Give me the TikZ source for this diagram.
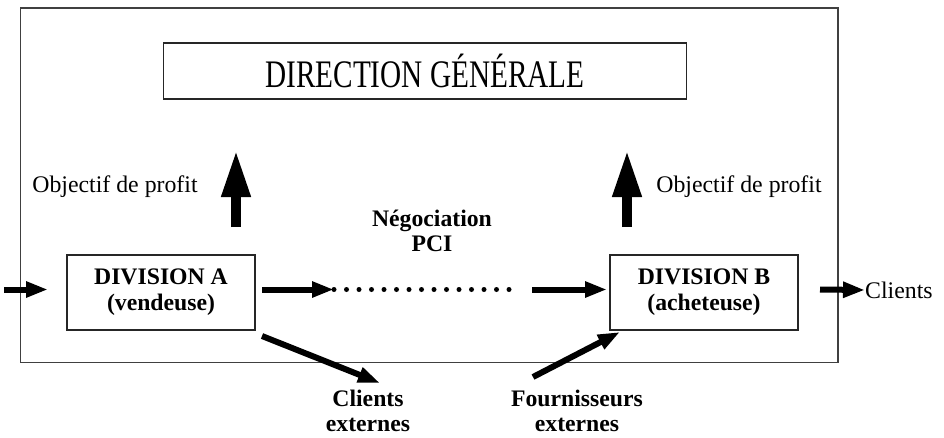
\documentclass[tikz,border=0pt]{standalone}
\usepackage{fontspec}
\setmainfont{Liberation Serif}
\newfontfamily\condfont[FakeStretch=0.75]{Liberation Serif}
\usetikzlibrary{arrows.meta,calc}
\tikzset{
  frame/.style={draw=black!75, line width=1.5pt},
  boxnode/.style={draw=black!85, line width=1.3pt, inner sep=0pt, align=center},
  boldtxt/.style={font=\fontsize{23.7}{25.5}\selectfont\bfseries, align=center, inner sep=0pt},
  normtxt/.style={font=\fontsize{23.8}{26}\selectfont, inner sep=0pt},
  flowarrow/.style={line width=6pt, -{Triangle[length=22pt,width=15pt]}},
  bigarrow/.style={line width=10pt, -{Triangle[length=47pt,width=27pt]}},
  dotline/.style={line width=5pt, line cap=round, dash pattern=on 0pt off 12.5pt}
}
\begin{document}
\begin{tikzpicture}[x=1pt,y=-1pt]
\useasboundingbox (0,0) rectangle (944,437);
\draw[frame] (20.5,8) rectangle (838,362.5);

\node[boxnode, minimum width=523pt, minimum height=56pt,
      font=\fontsize{39}{42}\condfont] (dg) at (425,71) {DIRECTION GÉNÉRALE};
\node[boxnode, minimum width=188pt, minimum height=75pt,
      font=\fontsize{23.7}{26}\selectfont\bfseries] (divA) at (161,292.5) {DIVISION A\\(vendeuse)};
\node[boxnode, minimum width=188pt, minimum height=75pt,
      font=\fontsize{23.7}{26}\selectfont\bfseries] (divB) at (704,292.5) {DIVISION B\\(acheteuse)};

\node[normtxt, anchor=base] (objL) at (115,192) {Objectif de profit};
\node[normtxt, anchor=base] (objR) at (739,192) {Objectif de profit};
\node[boldtxt] (neg) at (432,231) {Négociation\\PCI};
\node[boldtxt] (cext) at (368,411) {Clients\\externes};
\node[boldtxt] (fext) at (577,411) {Fournisseurs\\externes};
\node[normtxt, anchor=west] (cli) at (865,290) {Clients};

% up arrows
\coordinate (uA0) at (236,227);
\coordinate (uA1) at (236,150);
\coordinate (uB0) at (627,227);
\coordinate (uB1) at (627,150);
\draw[bigarrow] (uA0) -- (uA1);
\draw[bigarrow] (uB0) -- (uB1);

% horizontal flow
\coordinate (in0) at (4,289.5);
\coordinate (in1) at (48,289.5);
\draw[flowarrow] (in0) -- (in1);
\coordinate (a0) at (262,289.5);
\coordinate (d0) at (334,289.5);
\coordinate (d1) at (509,289.5);
\draw[flowarrow] (a0) -- (d0);
\draw[dotline] (d0) -- (d1);
\coordinate (b0) at (532,289.5);
\coordinate (b1) at (607,289.5);
\draw[flowarrow] (b0) -- (b1);
\coordinate (c0) at (820,289.5);
\draw[flowarrow] (c0) -- (cli.west);

% diagonal arrows
\coordinate (aS) at (262,336);
\coordinate (aE) at (380,383);
\draw[flowarrow] (aS) -- (aE);
\coordinate (fS) at (533,377);
\coordinate (fE) at (620,332);
\draw[flowarrow] (fS) -- (fE);
\end{tikzpicture}
\end{document}
